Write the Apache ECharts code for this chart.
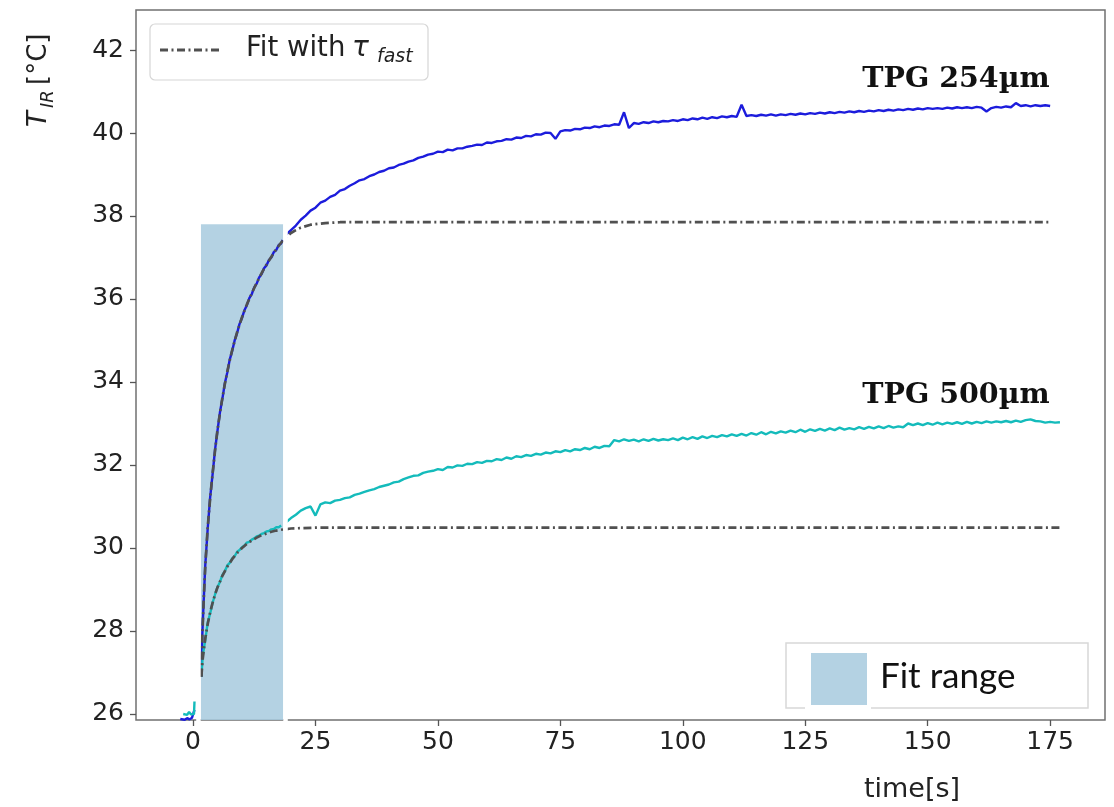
<!DOCTYPE html>
<html>
<head>
<meta charset="utf-8">
<script src="https://cdn.jsdelivr.net/npm/echarts@6/dist/echarts.min.js"></script>
<style>
  html, body { margin: 0; padding: 0; background: #fff; }
  #chart { width: 1114px; height: 807px; }
</style>
</head>
<body>
<div id="chart"></div>
<script>
// Axis ticks
const xTicks = [0, 25, 50, 75, 100, 125, 150, 175];
const yTicks = [26, 28, 30, 32, 34, 36, 38, 40, 42];

// Time window used for the fast fit [s] and the vertical extent of the shaded band [°C]
const fitWindow = [1.6, 18.4];
const fitWindowTop = 37.8;
const fitWindowBottom = 25.855;

// Baseline before heating starts, [time s, T °C]
const pre254 = [[-2.6, 25.88], [-2.2, 25.91], [-1.7, 25.86], [-1.2, 25.9], [-0.7, 25.87], [-0.2, 25.91], [0.2, 25.88], [0.3, 26.1]];
const pre500 = [[-2.0, 26.0], [-1.6, 26.04], [-1.2, 25.98], [-0.8, 26.05], [-0.4, 25.99], [0.0, 26.03], [0.2, 26.0], [0.3, 26.3]];

// Measured rise inside the fit window, [time s, T °C]
const rise254 = [[1.7, 26.9], [1.9, 27.92], [2.2, 28.78], [2.5, 29.58], [3, 30.47], [3.5, 31.22], [4, 31.78], [4.5, 32.37], [5, 32.83], [5.5, 33.27], [6, 33.6], [6.5, 33.97], [7, 34.23], [7.5, 34.54], [8, 34.75], [8.5, 35.0], [9, 35.18], [9.5, 35.4], [10, 35.54], [10.5, 35.73], [11, 35.85], [11.5, 36.02], [12, 36.12], [12.5, 36.28], [13, 36.37], [13.5, 36.52], [14, 36.6], [14.5, 36.74], [15, 36.81], [15.5, 36.94], [16, 37.0], [16.5, 37.13], [17, 37.18], [17.5, 37.3], [18, 37.34], [18.3, 37.42]];
const rise500 = [[1.7, 26.9], [2.0, 27.42], [2.5, 27.78], [3, 28.2], [3.5, 28.42], [4, 28.68], [4.5, 28.88], [5, 29.06], [5.5, 29.18], [6, 29.35], [6.5, 29.44], [7, 29.58], [7.5, 29.64], [8, 29.75], [8.5, 29.8], [9, 29.91], [9.5, 29.95], [10, 30.02], [10.5, 30.06], [11, 30.13], [11.5, 30.15], [12, 30.2], [12.5, 30.23], [13, 30.28], [13.5, 30.3], [14, 30.34], [14.5, 30.36], [15, 30.4], [15.5, 30.41], [16, 30.45], [16.5, 30.46], [17, 30.5], [17.5, 30.5], [18, 30.54], [18.3, 30.55]];

// Measured values after the fit window, one sample per second from tailStart
const tailStart = 19;
const tail254 = [
  37.55, 37.66, 37.77, 37.91, 38.01, 38.13, 38.2, 38.32, 38.37, 38.46,
  38.51, 38.61, 38.65, 38.73, 38.79, 38.86, 38.89, 38.96, 39.0, 39.06,
  39.09, 39.15, 39.17, 39.23, 39.26, 39.31, 39.34, 39.4, 39.43, 39.48,
  39.5, 39.55, 39.54, 39.6, 39.58, 39.63, 39.63, 39.67, 39.69, 39.72,
  39.71, 39.77, 39.76, 39.8, 39.81, 39.85, 39.84, 39.89, 39.88, 39.93,
  39.92, 39.97, 39.96, 40.01, 40.0, 39.86, 40.04, 40.07, 40.06, 40.1,
  40.09, 40.13, 40.12, 40.16, 40.14, 40.18, 40.17, 40.21, 40.2, 40.5,
  40.12, 40.24, 40.22, 40.26, 40.24, 40.28, 40.26, 40.29, 40.28, 40.31,
  40.29, 40.33, 40.31, 40.35, 40.33, 40.37, 40.34, 40.38, 40.36, 40.4,
  40.38, 40.41, 40.39, 40.68, 40.41, 40.43, 40.41, 40.44, 40.42, 40.45,
  40.42, 40.45, 40.43, 40.46, 40.44, 40.47, 40.45, 40.48, 40.46, 40.49,
  40.47, 40.5, 40.48, 40.51, 40.49, 40.52, 40.5, 40.53, 40.51, 40.54,
  40.52, 40.55, 40.53, 40.56, 40.54, 40.57, 40.55, 40.58, 40.56, 40.59,
  40.57, 40.6, 40.58, 40.6, 40.58, 40.61, 40.59, 40.62, 40.6, 40.62,
  40.6, 40.63, 40.61, 40.52, 40.6, 40.63, 40.61, 40.64, 40.62, 40.72,
  40.65, 40.67, 40.64, 40.67, 40.65, 40.67, 40.65
];
const tail500 = [
  30.62, 30.72, 30.8, 30.9, 30.96, 31.0, 30.78, 31.05, 31.1, 31.08,
  31.14, 31.16, 31.2, 31.22, 31.28, 31.31, 31.35, 31.39, 31.42, 31.47,
  31.5, 31.53, 31.58, 31.6, 31.66, 31.7, 31.74, 31.75, 31.81, 31.84,
  31.86, 31.9, 31.88, 31.95, 31.94, 31.99, 31.98, 32.03, 32.02, 32.07,
  32.05, 32.1, 32.09, 32.14, 32.12, 32.18, 32.15, 32.21, 32.19, 32.24,
  32.22, 32.27, 32.25, 32.3, 32.28, 32.33, 32.31, 32.36, 32.33, 32.38,
  32.36, 32.41, 32.38, 32.44, 32.41, 32.46, 32.45, 32.6, 32.57, 32.62,
  32.58, 32.61, 32.57, 32.62, 32.58, 32.63, 32.59, 32.62, 32.6, 32.64,
  32.6, 32.66, 32.62, 32.67, 32.63, 32.69, 32.65, 32.7, 32.67, 32.72,
  32.69, 32.74, 32.7, 32.75, 32.71, 32.77, 32.73, 32.79, 32.74, 32.8,
  32.76, 32.81, 32.78, 32.83, 32.79, 32.85, 32.8, 32.86, 32.82, 32.87,
  32.83, 32.88, 32.84, 32.9, 32.85, 32.89, 32.86, 32.91, 32.87, 32.92,
  32.88, 32.93, 32.89, 32.94, 32.9, 32.93, 32.91, 33.0, 32.96, 33.0,
  32.96, 33.01, 32.97, 33.02, 32.98, 33.02, 32.99, 33.03, 32.99, 33.04,
  33.0, 33.04, 33.01, 33.05, 33.02, 33.05, 33.03, 33.06, 33.03, 33.07,
  33.04, 33.08, 33.1, 33.06, 33.05, 33.02, 33.04, 33.02, 33.03
];

// Fast-time-constant fits, [time s, T °C]
const fit254 = [[1.7, 26.9], [1.9, 27.9], [2.2, 28.8], [2.5, 29.55], [3, 30.5], [3.5, 31.2], [4, 31.8], [4.5, 32.35], [5, 32.85], [5.5, 33.25], [6, 33.62], [6.5, 33.95], [7, 34.25], [7.5, 34.52], [8, 34.77], [9, 35.2], [10, 35.56], [11, 35.87], [12, 36.14], [13, 36.39], [14, 36.62], [15, 36.83], [16, 37.02], [17, 37.2], [18, 37.36], [19, 37.49], [20, 37.59], [21, 37.66], [22, 37.72], [24, 37.79], [27, 37.83], [30, 37.85], [175, 37.85]];
const fit500 = [[1.7, 26.9], [2.0, 27.35], [2.5, 27.82], [3, 28.17], [3.5, 28.45], [4, 28.68], [4.5, 28.88], [5, 29.05], [6, 29.33], [7, 29.55], [8, 29.73], [9, 29.88], [10, 30.0], [11, 30.1], [12, 30.18], [13, 30.25], [14, 30.31], [15, 30.35], [16, 30.39], [17, 30.42], [18, 30.44], [20, 30.47], [25, 30.49], [177.5, 30.49]];

const toPairs = (start, values) => values.map((v, i) => [start + i, v]);

const BLUE = '#1c1cdc';
const CYAN = '#14bbbb';
const FIT = '#505050';
const FIT_DASH = [8, 3.5, 2, 3.5];
const AXIS_FONT = '"DejaVu Sans", sans-serif';

function dataLine(data, color) {
  return {
    type: 'line', data: data, showSymbol: false, symbol: 'none', z: 3,
    lineStyle: { color: color, width: 2.4 }, clip: false, silent: true
  };
}
function fitLine(data) {
  return {
    type: 'line', data: data, showSymbol: false, symbol: 'none', z: 4,
    lineStyle: { color: FIT, width: 2.7, type: FIT_DASH }, clip: false, silent: true
  };
}

const chart = echarts.init(document.getElementById('chart'), null, { renderer: 'canvas' });

const option = {
  animation: false,
  backgroundColor: '#fff',
  grid: {
    left: 136, top: 10, right: 9, bottom: 87,
    show: true, borderColor: '#707070', borderWidth: 1.5, backgroundColor: 'transparent'
  },
  xAxis: {
    type: 'value', min: -11.64, max: 186.2,
    axisLine: { show: false, onZero: false },
    splitLine: { show: false },
    axisTick: { show: true, customValues: xTicks, length: 6, lineStyle: { color: '#555', width: 1.3 } },
    axisLabel: { customValues: xTicks, fontSize: 25, fontFamily: AXIS_FONT, color: '#222', margin: 10 }
  },
  yAxis: {
    type: 'value', min: 25.855, max: 42.964,
    axisLine: { show: false, onZero: false },
    splitLine: { show: false },
    axisTick: { show: true, customValues: yTicks, length: 6, lineStyle: { color: '#555', width: 1.3 } },
    axisLabel: { customValues: yTicks, fontSize: 25, fontFamily: AXIS_FONT, color: '#222', margin: 12 }
  },
  series: [
    {
      type: 'line', data: [], silent: true, clip: false,
      markArea: {
        silent: true, z: 1,
        itemStyle: { color: 'rgba(167,202,222,0.85)', borderWidth: 0 },
        data: [[{ xAxis: fitWindow[0], yAxis: fitWindowBottom }, { xAxis: fitWindow[1], yAxis: fitWindowTop }]]
      }
    },
    dataLine(pre254, BLUE),
    dataLine(pre500, CYAN),
    dataLine(rise254, BLUE),
    dataLine(rise500, CYAN),
    dataLine(toPairs(tailStart, tail254), BLUE),
    dataLine(toPairs(tailStart, tail500), CYAN),
    fitLine(fit254),
    fitLine(fit500)
  ],
  graphic: [
    // legend for the fit curves
    { type: 'rect', shape: { x: 150, y: 24, width: 278, height: 56, r: 5 }, style: { fill: '#fff', stroke: '#d6d6d6', lineWidth: 1.2 }, z: 10 },
    { type: 'line', shape: { x1: 160, y1: 50, x2: 220, y2: 50 }, style: { stroke: FIT, lineWidth: 2.8, lineDash: FIT_DASH }, z: 11 },
    { type: 'text', x: 246, y: 49, style: { text: 'Fit with', font: '27.5px "DejaVu Sans"', fill: '#222', verticalAlign: 'middle' }, z: 11 },
    { type: 'text', x: 352, y: 49, style: { text: 'τ', font: 'italic 28px "DejaVu Sans"', fill: '#222', verticalAlign: 'middle' }, z: 11 },
    { type: 'text', x: 377, y: 57, style: { text: 'fast', font: 'italic 19px "DejaVu Sans"', fill: '#222', verticalAlign: 'middle' }, z: 11 },

    // legend for the shaded fit window
    { type: 'rect', shape: { x: 786, y: 643, width: 302, height: 65 }, style: { fill: '#fff', stroke: '#d8d8d8', lineWidth: 1.5 }, z: 10 },
    { type: 'line', shape: { x1: 805, y1: 708, x2: 871, y2: 708 }, style: { stroke: '#fff', lineWidth: 3 }, z: 11 },
    { type: 'rect', shape: { x: 811, y: 653, width: 56, height: 52 }, style: { fill: '#b4d2e3' }, z: 11 },
    { type: 'text', x: 880, y: 677, style: { text: 'Fit range', font: '35px Lato', fill: '#111', verticalAlign: 'middle' }, z: 11 },

    // curve labels
    { type: 'text', x: 956, y: 94, style: { text: 'TPG 254µm', font: 'bold 28.5px "DejaVu Serif"', fill: '#111', align: 'center', verticalAlign: 'bottom' }, z: 11 },
    { type: 'text', x: 956, y: 410, style: { text: 'TPG 500µm', font: 'bold 28.5px "DejaVu Serif"', fill: '#111', align: 'center', verticalAlign: 'bottom' }, z: 11 },

    // axis titles
    { type: 'text', x: 912, y: 790, style: { text: 'time[s]', font: '27px "DejaVu Sans"', fill: '#222', align: 'center', verticalAlign: 'middle' }, z: 11 },
    {
      type: 'group', x: 47, y: 127, rotation: Math.PI / 2, z: 11,
      children: [
        { type: 'text', x: 0, y: -8, style: { text: 'T', font: 'italic 26px "DejaVu Sans"', fill: '#222', verticalAlign: 'middle' } },
        { type: 'text', x: 19, y: 1, style: { text: 'IR', font: 'italic 18px "DejaVu Sans"', fill: '#222', verticalAlign: 'middle' } },
        { type: 'text', x: 42, y: -8, style: { text: '[°C]', font: '26px "DejaVu Sans"', fill: '#222', verticalAlign: 'middle' } }
      ]
    }
  ]
};

chart.setOption(option);

// White outline just outside the left and right edges of the shaded band
const topLeft = chart.convertToPixel({ gridIndex: 0 }, [fitWindow[0], fitWindowTop]);
const bottomRight = chart.convertToPixel({ gridIndex: 0 }, [fitWindow[1], fitWindowBottom]);
const edgeGap = 2.4;
[topLeft[0] - edgeGap, bottomRight[0] + edgeGap].forEach(x => {
  chart.getZr().add(new echarts.graphic.Line({
    shape: { x1: x, y1: topLeft[1], x2: x, y2: bottomRight[1] + 2 },
    style: { stroke: '#fff', lineWidth: 4.5 },
    silent: true, z: 100
  }));
});
</script>
</body>
</html>
